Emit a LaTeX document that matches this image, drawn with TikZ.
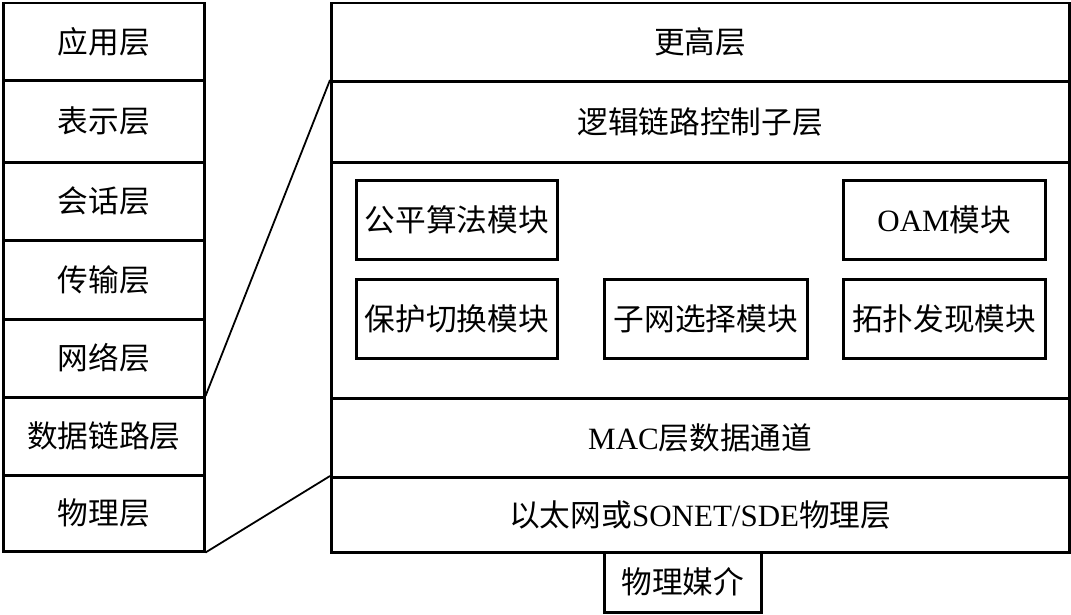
\documentclass[tikz,border=0pt]{standalone}
\usepackage{fontspec}
\setmainfont{Liberation Serif}
\newfontfamily\cjk{Noto Sans CJK SC}[Scale=0.99]
\begin{document}
\begin{tikzpicture}[x=1pt,y=-1pt,
  box/.style={draw=black, line width=2.5pt, inner sep=0pt, anchor=north west,
    font=\fontsize{31}{37}\selectfont},
  link/.style={draw=black, line width=1.8pt}]
\useasboundingbox (0,0) rectangle (1071,614);
% left OSI column
\node[box, minimum width=201pt, minimum height=78pt] (app) at (2,1.5) {\cjk 应用层};
\node[box, minimum width=201pt, minimum height=82pt] (pre) at (2,79) {\cjk 表示层};
\node[box, minimum width=201pt, minimum height=78pt] (ses) at (2,161) {\cjk 会话层};
\node[box, minimum width=201pt, minimum height=79pt] (tra) at (2,239) {\cjk 传输层};
\node[box, minimum width=201pt, minimum height=78pt] (net) at (2,318) {\cjk 网络层};
\node[box, minimum width=201pt, minimum height=78pt] (dl) at (2,396) {\cjk 数据链路层};
\node[box, minimum width=201pt, minimum height=76pt] (phy) at (2,474) {\cjk 物理层};
% right stack
\node[box, minimum width=738pt, minimum height=78.5pt] (hi) at (330,1.5) {\cjk 更高层};
\node[box, minimum width=738pt, minimum height=81pt] (llc) at (330,80) {\cjk 逻辑链路控制子层};
\node[box, minimum width=738pt, minimum height=236pt] (mod) at (330,161) {};
\node[box, minimum width=738pt, minimum height=79pt] (mac) at (330,397) {MAC{\cjk 层数据通道}};
\node[box, minimum width=738pt, minimum height=75pt] (rphy) at (330,476) {{\cjk 以太网或}SONET/SDE{\cjk 物理层}};
\node[box, minimum width=157pt, minimum height=60pt] (media) at (603,551) {\cjk 物理媒介};
% modules
\node[box, minimum width=201pt, minimum height=79pt] (fair) at (355,179) {\cjk 公平算法模块};
\node[box, minimum width=202pt, minimum height=79pt] (oam) at (842,179) {OAM{\cjk 模块}};
\node[box, minimum width=201pt, minimum height=79pt] (prot) at (355,278) {\cjk 保护切换模块};
\node[box, minimum width=203pt, minimum height=79pt] (sub) at (603,278) {\cjk 子网选择模块};
\node[box, minimum width=202pt, minimum height=79pt] (topo) at (842,278) {\cjk 拓扑发现模块};
% connecting lines
\draw[link] (dl.north east) -- (llc.north west);
\draw[link] (phy.south east) -- (rphy.north west);
\end{tikzpicture}
\end{document}
